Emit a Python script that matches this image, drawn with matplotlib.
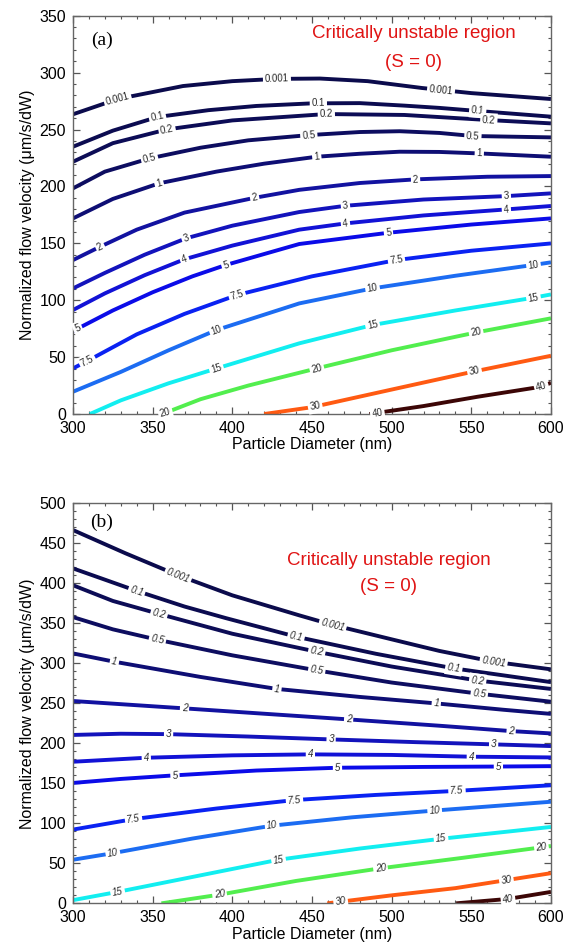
import numpy as np
import matplotlib
matplotlib.use('Agg')
import matplotlib.pyplot as plt
from matplotlib.ticker import MultipleLocator

plt.rcParams['font.family'] = ['Liberation Sans', 'DejaVu Sans']

# contour levels of the stability parameter, in drawing order
levels = ['0.001', '0.1', '0.2', '0.5', '1', '2', '3', '4', '5', '7.5', '10', '15', '20', '30', '40']
colors = ['#0b0b4c', '#0b0b50', '#0c0c56', '#0d0d60', '#0e0e74', '#1212a0', '#1313bc', '#1212d6',
          '#0b0be8', '#0a22f2', '#1c6cf2', '#12eef0', '#52ee4e', '#ff5a12', '#3c0606']

# ---- panel (a): points (diameter nm, velocity) ----
a_d_0001 = [300, 328, 369, 400, 428, 455, 485, 519, 550, 600]
a_v_0001 = [263.4, 276.8, 288.2, 292.5, 294.5, 294.8, 292.5, 286.5, 282, 276.8]
a_d_01 = [300, 325, 353, 385, 415, 450, 480, 508, 530, 554, 600]
a_v_01 = [234.9, 249, 261, 267, 270.7, 273, 273.2, 271, 269, 266.3, 261.3]
a_d_02 = [300, 325, 359, 400, 459, 508, 561, 600]
a_v_02 = [221.7, 238, 250.1, 258, 263.6, 262.8, 258.3, 255.4]
a_d_05 = [300, 320, 348, 380, 410, 448, 480, 505, 530, 551, 600]
a_v_05 = [198.3, 213, 224.6, 234, 240.5, 245.1, 247.8, 248.5, 247, 244.3, 243.1]
a_d_1 = [300, 325, 354, 390, 420, 453, 480, 505, 530, 555, 600]
a_v_1 = [171.9, 189, 202.7, 213, 220, 226.1, 228.7, 230.5, 230.3, 229, 226.1]
a_d_2 = [300, 317, 340, 370, 414, 442, 480, 515, 560, 600]
a_v_2 = [135.3, 147, 162, 177, 190, 197, 203, 206.2, 208.5, 209.1]
a_d_3 = [300, 320, 345, 371, 400, 442, 471, 520, 572, 600]
a_v_3 = [110.4, 124, 140, 154.4, 165.5, 177.5, 183, 188.5, 191.5, 193.9]
a_d_4 = [300, 320, 345, 370, 400, 442, 471, 520, 572, 600]
a_v_4 = [91.4, 106, 122, 136, 148, 162, 167.5, 174.5, 179.8, 182.8]
a_d_5 = [300, 325, 350, 375, 396, 442, 498, 550, 600]
a_v_5 = [72.9, 91, 107, 121, 131, 149.4, 159.3, 166.5, 171.9]
a_d_75 = [300, 309, 340, 370, 403, 450, 503, 550, 600]
a_v_75 = [40.1, 46.6, 70, 88, 104.6, 121, 135.3, 143.5, 149.9]
a_d_10 = [300, 330, 360, 390, 442, 488, 540, 589, 600]
a_v_10 = [19.6, 37, 56, 73.8, 97.2, 110.4, 121.5, 131, 133.3]
a_d_15 = [310.6, 330, 360, 390, 442, 488, 540, 589, 600]
a_v_15 = [0, 12, 27, 40, 62.1, 78.2, 91, 102.2, 105.1]
a_d_20 = [356, 380, 410, 453, 500, 553, 600]
a_v_20 = [0, 13, 25, 40.1, 56, 71.7, 84.1]
a_d_30 = [420, 450, 500, 551, 600]
a_v_30 = [0, 6, 21.5, 37.2, 51.2]
a_d_40 = [486, 520, 554, 594, 600]
a_v_40 = [0, 7, 15.2, 24, 27.5]

# ---- panel (b) ----
b_d_0001 = [300, 333, 366, 400, 442, 463, 500, 530, 564, 600]
b_v_0001 = [466.6, 437.5, 410, 385, 360, 348, 330, 315.5, 302, 292.5]
b_d_01 = [300, 340, 370, 396, 440, 490, 539, 570, 600]
b_v_01 = [418.7, 390.5, 371, 356.5, 333.3, 312, 293.7, 285, 276.5]
b_d_02 = [300, 325, 354, 400, 453, 500, 554, 600]
b_v_02 = [397.6, 378, 361.8, 337, 314.5, 296, 278.5, 268]
b_d_05 = [300, 325, 353, 400, 453, 500, 555, 600]
b_v_05 = [357.8, 342.5, 329.5, 310, 291.2, 276, 262, 252]
b_d_1 = [300, 326, 380, 428, 480, 528, 570, 600]
b_v_1 = [312.4, 302, 283, 268, 258, 249.9, 242, 236.8]
b_d_2 = [300, 370, 420, 473, 530, 575, 600]
b_v_2 = [252.9, 243.7, 237, 229.9, 222, 215.3, 212.4]
b_d_3 = [300, 330, 360, 410, 462, 515, 564, 600]
b_v_3 = [210.5, 212, 211.5, 208.5, 204.9, 201.5, 198.7, 196.6]
b_d_4 = [300, 346, 400, 449, 500, 550, 600]
b_v_4 = [177, 182, 185, 186.2, 185.5, 183.3, 182.4]
b_d_5 = [300, 330, 364, 415, 466, 520, 567, 600]
b_v_5 = [150.5, 155.5, 160, 166, 169.5, 170.5, 171, 171.5]
b_d_75 = [300, 338, 390, 439, 490, 541, 600]
b_v_75 = [92.2, 105.3, 118.5, 129.1, 135.5, 140.6, 147.6]
b_d_10 = [300, 325, 375, 425, 475, 527, 600]
b_v_10 = [54.5, 62.7, 81, 97.1, 107.5, 116, 127]
b_d_15 = [300, 328, 380, 429, 480, 531, 600]
b_v_15 = [4, 14.3, 35, 54.5, 68.5, 80.7, 95.5]
b_d_20 = [355.5, 392.5, 440, 493, 545, 594, 600]
b_v_20 = [0, 11, 28, 43.8, 57, 70, 71.7]
b_d_30 = [459.6, 500, 540, 572, 600]
b_v_30 = [0, 10, 19, 29, 37.7]
b_d_40 = [540.5, 573, 600]
b_v_40 = [0, 5.5, 14.3]

a_d = [a_d_0001, a_d_01, a_d_02, a_d_05, a_d_1, a_d_2, a_d_3, a_d_4, a_d_5, a_d_75, a_d_10, a_d_15, a_d_20, a_d_30, a_d_40]
a_v = [a_v_0001, a_v_01, a_v_02, a_v_05, a_v_1, a_v_2, a_v_3, a_v_4, a_v_5, a_v_75, a_v_10, a_v_15, a_v_20, a_v_30, a_v_40]
b_d = [b_d_0001, b_d_01, b_d_02, b_d_05, b_d_1, b_d_2, b_d_3, b_d_4, b_d_5, b_d_75, b_d_10, b_d_15, b_d_20, b_d_30, b_d_40]
b_v = [b_v_0001, b_v_01, b_v_02, b_v_05, b_v_1, b_v_2, b_v_3, b_v_4, b_v_5, b_v_75, b_v_10, b_v_15, b_v_20, b_v_30, b_v_40]

# where the inline contour labels sit (diameter along each curve)
a_lab = [[328, 428, 531], [353, 454, 554], [359, 459, 561], [348, 448, 551], [354, 453, 555],
         [317, 414, 515], [371, 471, 572], [370, 471, 572], [303, 396, 498], [309, 403, 503],
         [390, 488, 589], [390, 488, 589], [358, 453, 553], [452, 552], [491, 594]]
b_lab = [[366, 463, 564], [340, 440, 539], [354, 453, 554], [353, 453, 555], [326, 428, 528],
         [370, 473, 575], [360, 462, 564], [346, 449, 550], [364, 466, 567], [338, 439, 541],
         [325, 425, 527], [328, 429, 531], [392, 493, 594], [468, 572], [573]]


def put_labels(ax, xs, ys, text, where, italic):
    for xl in where:
        yl = np.interp(xl, xs, ys)
        p1 = ax.transData.transform((xl - 5, np.interp(xl - 5, xs, ys)))
        p2 = ax.transData.transform((xl + 5, np.interp(xl + 5, xs, ys)))
        ang = np.degrees(np.arctan2(p2[1] - p1[1], p2[0] - p1[0]))
        t = ax.text(xl, yl, text, fontsize=7, color='#2a2a2a', ha='center', va='center',
                    rotation=ang, rotation_mode='anchor', zorder=4,
                    style='italic' if italic else 'normal',
                    bbox=dict(boxstyle='square,pad=0.2', fc='white', ec='none'))
        t.set_clip_path(ax.patch)


def setup(ax, ymax):
    ax.set_xlim(300, 600)
    ax.set_ylim(0, ymax)
    ax.xaxis.set_major_locator(MultipleLocator(50))
    ax.yaxis.set_major_locator(MultipleLocator(50))
    ax.xaxis.set_minor_locator(MultipleLocator(10))
    ax.yaxis.set_minor_locator(MultipleLocator(10))
    ax.tick_params(which='both', direction='in', top=True, right=True, color='#555555',
                   labelsize=11.5, pad=5)
    ax.tick_params(which='major', length=5, width=0.9)
    ax.tick_params(which='minor', length=2.5, width=0.8)
    for s in ax.spines.values():
        s.set_color('#666666')
        s.set_linewidth(1.0)
    ax.set_xlabel('Particle Diameter (nm)', fontsize=11.5, labelpad=1)
    ax.set_ylabel('Normalized flow velocity (\u03bcm/s/dW)', fontsize=11.5, labelpad=3)


fig = plt.figure(figsize=(5.77, 9.47), dpi=100)
ax1 = fig.add_axes([0.1265, 0.5628, 0.8284, 0.4206])
ax2 = fig.add_axes([0.1265, 0.0461, 0.8284, 0.4224])
setup(ax1, 350)
setup(ax2, 500)

for ax, dd, vv, lab, ital in [(ax1, a_d, a_v, a_lab, False), (ax2, b_d, b_v, b_lab, True)]:
    for i in range(len(levels)):
        ax.plot(dd[i], vv[i], color=colors[i], lw=2.8, solid_capstyle='butt',
                solid_joinstyle='round', zorder=2)
        put_labels(ax, dd[i], vv[i], levels[i], lab[i], ital)

# panel tags and region note
ax1.text(318, 328, '(a)', family='Liberation Serif', fontsize=14, ha='center', va='center')
ax2.text(318, 476, '(b)', family='Liberation Serif', fontsize=14, ha='center', va='center')
ax1.text(514, 334, 'Critically unstable region', color='#e01414', fontsize=13.5, ha='center', va='center')
ax1.text(514, 309, '(S = 0)', color='#e01414', fontsize=13.5, ha='center', va='center')
ax2.text(498, 429, 'Critically unstable region', color='#e01414', fontsize=13.5, ha='center', va='center')
ax2.text(498, 396, '(S = 0)', color='#e01414', fontsize=13.5, ha='center', va='center')

fig.savefig('out.png', dpi=100)
